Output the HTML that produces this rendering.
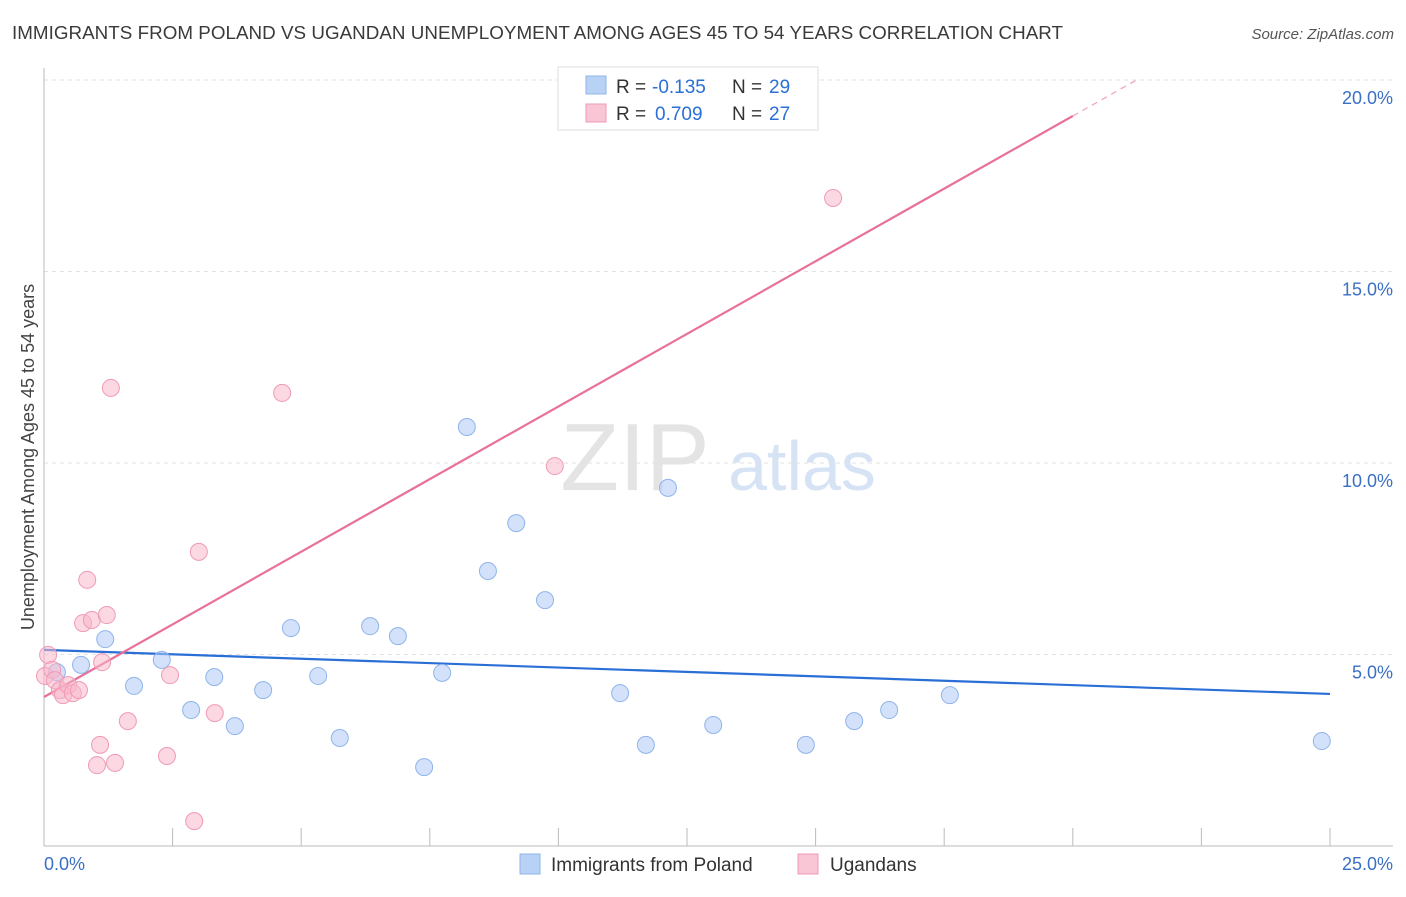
<!DOCTYPE html>
<html><head><meta charset="utf-8"><style>
body{margin:0;background:#fff;font-family:"Liberation Sans",sans-serif;}
svg text{font-family:"Liberation Sans",sans-serif;}
</style></head><body>
<svg id="chart" width="1406" height="892" viewBox="0 0 1406 892" xmlns="http://www.w3.org/2000/svg">
<text x="12" y="39" font-size="18.8" fill="#3a3a3a" textLength="1051">IMMIGRANTS FROM POLAND VS UGANDAN UNEMPLOYMENT AMONG AGES 45 TO 54 YEARS CORRELATION CHART</text>
<text x="1394" y="39" font-size="15" fill="#555" font-style="italic" text-anchor="end">Source: ZipAtlas.com</text>
<g>
<text x="635" y="490" font-size="96" fill="#e4e4e4" font-family="Liberation Serif" text-anchor="middle">ZIP</text>
<text x="802" y="490" font-size="70" fill="#d6e3f5" text-anchor="middle">atlas</text>
</g>
<g id="grid"></g>
<g id="axes"></g>
<g id="lines"></g>
<g id="points"></g>
<text transform="translate(34,457) rotate(-90)" font-size="18" fill="#444" text-anchor="middle">Unemployment Among Ages 45 to 54 years</text>
<g>
<rect x="558" y="67" width="260" height="63" fill="#fff" stroke="#ddd"/>
<rect x="586" y="76" width="20" height="18" fill="#b8d2f6" stroke="#8fb4ea"/>
<text x="616" y="93" font-size="19" fill="#333">R =</text>
<text x="652" y="93" font-size="19" fill="#2a6fd6">-0.135</text>
<text x="732" y="93" font-size="19" fill="#333">N =</text>
<text x="769" y="93" font-size="19" fill="#2a6fd6">29</text>
<rect x="586" y="104" width="20" height="18" fill="#f9c6d5" stroke="#f09ab5"/>
<text x="616" y="120" font-size="19" fill="#333">R =</text>
<text x="655" y="120" font-size="19" fill="#2a6fd6">0.709</text>
<text x="732" y="120" font-size="19" fill="#333">N =</text>
<text x="769" y="120" font-size="19" fill="#2a6fd6">27</text>
</g>
<g>
<rect x="520" y="854" width="20" height="20" fill="#b8d2f6" stroke="#8fb4ea"/>
<text x="551" y="871" font-size="19" fill="#333">Immigrants from Poland</text>
<rect x="798" y="854" width="20" height="20" fill="#f9c6d5" stroke="#f09ab5"/>
<text x="830" y="871" font-size="19" fill="#333">Ugandans</text>
</g>
</svg>
<script>
const blueX=[0.25,0.72,1.19,1.75,2.29,2.86,3.31,3.71,4.26,4.80,5.33,5.75,6.34,6.88,7.39,7.74,8.22,8.63,9.18,9.74,11.20,11.70,12.13,13.01,14.81,15.75,16.43,17.61,24.84];
const blueY=[4.54,4.73,5.40,4.18,4.86,3.55,4.41,3.13,4.07,5.69,4.44,2.82,5.74,5.48,2.06,4.52,10.94,7.18,8.43,6.42,3.99,2.64,9.35,3.16,2.64,3.26,3.55,3.94,2.74];
const pinkX=[0.02,0.08,0.16,0.21,0.31,0.37,0.47,0.56,0.68,0.76,0.84,0.93,1.03,1.09,1.13,1.22,1.30,1.38,1.63,2.39,2.45,2.92,3.01,3.32,4.63,9.93,15.34];
const pinkY=[4.44,4.99,4.60,4.33,4.07,3.94,4.20,3.99,4.07,5.82,6.95,5.90,2.11,2.64,4.80,6.03,11.96,2.17,3.26,2.35,4.46,0.65,7.68,3.47,11.83,9.92,16.92];
const blueTrend=[5.12,-0.046];
const pinkTrend=[3.89,0.7585];
const yTicks=[5,10,15,20];
const yTickLabels=["5.0%","10.0%","15.0%","20.0%"];
const xTicks=[0,2.5,5,7.5,10,12.5,15,17.5,20,22.5,25];
const X0=44,X1=1330,Y0=846,PY=38.3;
const sx=v=>X0+v/25*(X1-X0);
const sy=v=>Y0-v*PY;
const NS="http://www.w3.org/2000/svg";
function mk(parent,tag,attrs){const e=document.createElementNS(NS,tag);for(const k in attrs)e.setAttribute(k,attrs[k]);document.getElementById(parent).appendChild(e);return e;}
yTicks.forEach((t,i)=>{
 const l=mk('grid','line',{x1:X0,x2:1393,y1:sy(t),y2:sy(t),stroke:'#e2e2e2','stroke-dasharray':'4,4'});
 
 
 const tx=mk('axes','text',{x:1393,y:sy(t)+24,'font-size':18,fill:'#3a6fc4','text-anchor':'end'});
 tx.textContent=yTickLabels[i];
 
 
});
const ax=mk('axes','line',{x1:X0,x2:1393,y1:Y0,y2:Y0,stroke:'#bbb'});


const ay=mk('axes','line',{x1:X0,x2:X0,y1:68,y2:Y0,stroke:'#bbb'});


xTicks.forEach(t=>{
 const l=mk('axes','line',{x1:sx(t),x2:sx(t),y1:Y0,y2:Y0-18,stroke:'#bbb'});
 
 
});
const xl0=mk('axes','text',{x:X0,y:870,'font-size':18,fill:'#3a6fc4'});xl0.textContent='0.0%';


const xl1=mk('axes','text',{x:1393,y:870,'font-size':18,fill:'#3a6fc4','text-anchor':'end'});xl1.textContent='25.0%';


function pt(xs,ys,fill,stroke,name){xs.forEach((x,i)=>{
 const c=mk('points','circle',{cx:sx(x),cy:sy(ys[i]),r:8.5,fill:fill,'fill-opacity':0.55,stroke:stroke,'stroke-width':1});
 
 
});}
pt(blueX,blueY,'#aecbf5','#8fb4ea','point-poland');
pt(pinkX,pinkY,'#f7b8cb','#f09ab5','point-ugandans');
const bl=mk('lines','line',{x1:sx(0),y1:sy(blueTrend[0]),x2:sx(25),y2:sy(blueTrend[0]+blueTrend[1]*25),stroke:'#2a6fd6','stroke-width':2.2});


const pl=mk('lines','line',{x1:sx(0),y1:sy(pinkTrend[0]),x2:sx(20),y2:sy(pinkTrend[0]+pinkTrend[1]*20),stroke:'#e8709a','stroke-width':2.2});


const xe=(20-pinkTrend[0])/pinkTrend[1];
const pd=mk('lines','line',{x1:sx(20),y1:sy(pinkTrend[0]+pinkTrend[1]*20),x2:sx(xe),y2:sy(20),stroke:'#f0a0bc','stroke-width':1.2,'stroke-dasharray':'6,5'});


</script>
</body></html>
